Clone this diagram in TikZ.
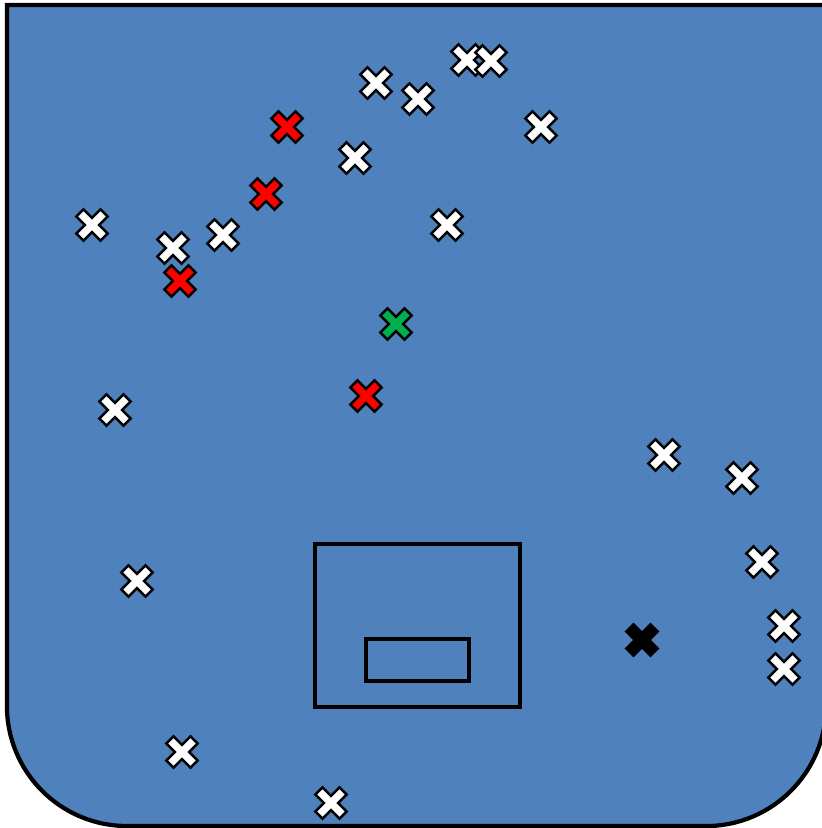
\documentclass[tikz,border=0pt]{standalone}
\usepackage{xcolor}
\usepackage{tikz}
\definecolor{pitchblue}{HTML}{4F81BD}
\definecolor{markred}{HTML}{FF0000}
\definecolor{markgreen}{HTML}{00B050}
\tikzset{
  pics/xmark/.style={code={
    \draw[fill=#1,line width=.7pt,line join=miter,rotate=45]
      (5,17) -- (5,5) -- (17,5) -- (17,-5) -- (5,-5) -- (5,-17)
      -- (-5,-17) -- (-5,-5) -- (-17,-5) -- (-17,5) -- (-5,5)
      -- (-5,17) -- cycle;
  }},
  box/.style={draw,line width=1pt}
}

\begin{document}
\begin{tikzpicture}[x=.01cm,y=-.01cm]
  \useasboundingbox (0,0) rectangle (821,828);

  % field
  \draw[fill=pitchblue,line width=1.2pt]
    (7,5) -- (826,5) -- (826,706) arc[start angle=0,end angle=-90,radius=1.2cm]
    -- (127,826) arc[start angle=-90,end angle=-180,radius=1.2cm] -- cycle;

  \draw[box] (315,544) rectangle (520,707);
  \draw[box] (366,639) rectangle (469,681);

  \foreach \x/\y in {92/225,173/248,223/235,376/83,418/99,467/60,491/61,
      541/127,355/158,447/225,115/410,664/455,742/478,762/562,784/626,
      784/669,137/581,182/752,331/803}
    \pic at (\x,\y) {xmark=white};
  \foreach \x/\y in {287/127,266/194,180/281,366/396}
    \pic at (\x,\y) {xmark=markred};
  \pic at (396,324) {xmark=markgreen};
  \pic at (642,640) {xmark=black};
\end{tikzpicture}
\end{document}
